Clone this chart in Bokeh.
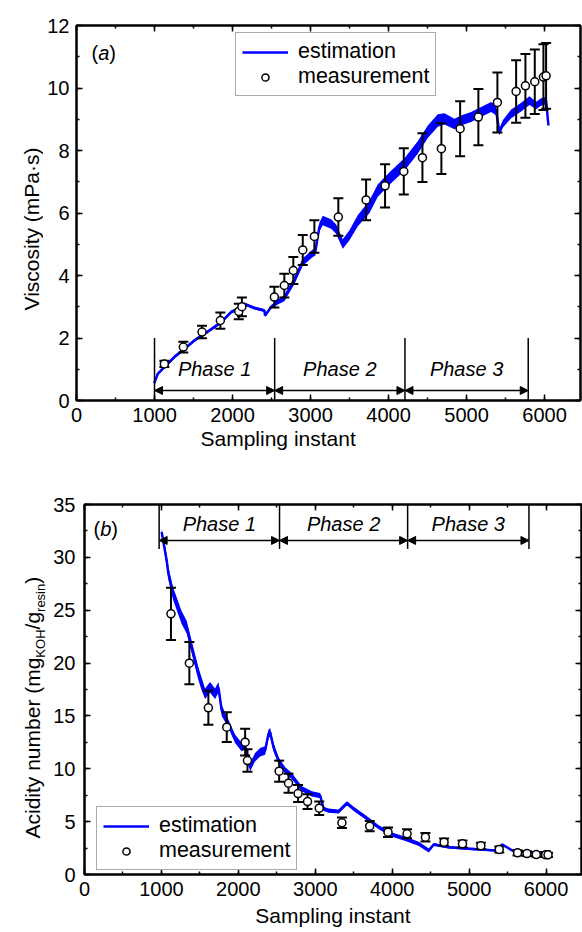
import math
from bokeh.plotting import figure
from bokeh.models import (ColumnDataSource, Whisker, TeeHead, Arrow, NormalHead, Label, Title,
                          Legend, LegendItem, LinearAxis, SingleIntervalTicker, Range1d)
from bokeh.core.properties import value
from bokeh.layouts import column, row
from bokeh.embed import file_html
from bokeh.resources import INLINE

FONT = "Liberation Sans"

# ---------------- (a) viscosity ----------------
visc_meas_x = [1126, 1369, 1609, 1844, 2080, 2120, 2536, 2664, 2779, 2900, 3049, 3356, 3712, 3955,
               4195, 4434, 4677, 4917, 5151, 5395, 5635, 5754, 5874, 5985, 6019]
visc_meas_y = [1.17, 1.71, 2.19, 2.56, 2.85, 3.0, 3.31, 3.68, 4.16, 4.82, 5.25, 5.87, 6.42, 6.87,
               7.33, 7.77, 8.06, 8.70, 9.07, 9.54, 9.89, 10.07, 10.2, 10.35, 10.39]
visc_meas_err = [0.1, 0.17, 0.2, 0.26, 0.25, 0.3, 0.33, 0.38, 0.43, 0.48, 0.52, 0.6, 0.65, 0.69,
                 0.74, 0.78, 0.81, 0.88, 0.9, 0.96, 1.0, 1.02, 1.03, 1.05, 1.05]

visc_est_x = [996, 1041, 1126, 1254, 1382, 1510, 1638, 1767, 1853, 1981, 2067, 2151, 2280, 2408,
              2417, 2494, 2580, 2664, 2792, 2900, 3028, 3060, 3113, 3156, 3263, 3327, 3413, 3497,
              3606, 3754, 3862, 4032, 4203, 4374, 4503, 4631, 4716, 4844, 4929, 5058, 5186, 5314,
              5378, 5420, 5464, 5571, 5699, 5806, 5891, 5955, 6019, 6049]
visc_est_y = [0.55, 0.85, 1.07, 1.39, 1.65, 1.92, 2.13, 2.35, 2.5, 2.83, 2.93, 3.09, 2.96, 2.88,
              2.72, 2.99, 3.15, 3.28, 3.84, 4.43, 4.71, 4.75, 5.55, 5.76, 5.65, 5.49, 5.01, 5.28,
              5.76, 6.19, 6.72, 7.15, 7.55, 8.1, 8.6, 8.96, 9.01, 8.85, 8.96, 9.07, 9.23, 9.39,
              9.28, 8.59, 8.85, 9.17, 9.39, 9.6, 9.44, 9.55, 9.6, 8.8]
visc_est_half = [0.04, 0.04, 0.05, 0.05, 0.05, 0.05, 0.05, 0.05, 0.05, 0.05, 0.05, 0.05, 0.05, 0.05,
                 0.05, 0.06, 0.08, 0.1, 0.12, 0.12, 0.12, 0.12, 0.14, 0.15, 0.15, 0.15, 0.15, 0.16,
                 0.18, 0.2, 0.2, 0.2, 0.2, 0.2, 0.2, 0.2, 0.18, 0.17, 0.16, 0.16, 0.16, 0.16,
                 0.15, 0.1, 0.12, 0.14, 0.14, 0.14, 0.12, 0.12, 0.12, 0.05]

visc_phase_bounds = [1000, 2540, 4210, 5790]
visc_phase_names = ["Phase 1", "Phase 2", "Phase 3"]
visc_title = "Viscosity (mPa·s)"
x_title = "Sampling instant"

# ---------------- (b) acidity number ----------------
acid_meas_x = [1124, 1363, 1610, 1849, 2088, 2118, 2530, 2652, 2776, 2899, 3051, 3346, 3707, 3945,
               4193, 4431, 4674, 4913, 5152, 5391, 5629, 5751, 5872, 5994, 6025]
acid_meas_y = [24.66, 19.99, 15.77, 13.94, 12.52, 10.78, 9.77, 8.64, 7.66, 6.9, 6.27, 4.89, 4.57,
               4.0, 3.85, 3.53, 3.06, 2.9, 2.71, 2.36, 2.05, 1.98, 1.89, 1.86, 1.86]
acid_meas_err = [2.47, 2.0, 1.6, 1.4, 1.26, 1.06, 1.0, 0.9, 0.8, 0.7, 0.63, 0.5, 0.48, 0.45, 0.42,
                 0.4, 0.35, 0.32, 0.3, 0.28, 0.25, 0.22, 0.2, 0.2, 0.2]

acid_est_x = [1003, 1068, 1090, 1111, 1155, 1263, 1328, 1393, 1480, 1523, 1567, 1632, 1697, 1741,
              1784, 1871, 1957, 2044, 2083, 2152, 2217, 2283, 2348, 2391, 2413, 2457, 2522, 2609,
              2695, 2826, 2956, 3064, 3108, 3173, 3303, 3411, 3499, 3650, 3824, 3997, 4171, 4345,
              4475, 4540, 4735, 4996, 5343, 5430, 5560, 5777, 6038, 6050]
acid_est_y = [32.4, 29.7, 28.5, 27.8, 26.5, 24.3, 23.4, 21.5, 19.0, 18.0, 17.1, 17.7, 17.1, 17.7,
              15.5, 14.25, 12.84, 12.04, 12.3, 10.15, 11.1, 11.57, 11.73, 13.3, 13.46, 12.04, 10.78,
              9.84, 9.3, 8.1, 7.63, 7.47, 6.21, 6.05, 5.96, 6.74, 6.21, 5.42, 4.47, 3.78, 3.37,
              2.9, 2.27, 2.84, 2.58, 2.43, 2.27, 2.84, 2.27, 2.11, 2.11, 2.3]
acid_est_half = [0.3, 0.5, 0.6, 0.6, 0.6, 0.6, 0.6, 0.6, 0.6, 0.6, 0.5, 0.5, 0.5, 0.5, 0.5, 0.4,
                 0.4, 0.4, 0.4, 0.4, 0.4, 0.4, 0.4, 0.4, 0.4, 0.4, 0.3, 0.3, 0.3, 0.25, 0.25, 0.25,
                 0.2, 0.2, 0.2, 0.2, 0.2, 0.2, 0.2, 0.2, 0.2, 0.2, 0.2, 0.15, 0.12, 0.12, 0.1, 0.1,
                 0.1, 0.1, 0.1, 0.1]

acid_phase_bounds = [970, 2535, 4200, 5777]
acid_phase_names = ["Phase 1", "Phase 2", "Phase 3"]

# y-axis title of (b): text pieces (text, font px, baseline shift px)
acid_title_pieces = [("Acidity number (mg", 21, 0), ("KOH", 13, 8), ("/g", 21, 0),
                     ("resin", 13, 8), (")", 21, 0)]

BLUE = "#0000ff"

# Arial / Liberation Sans advance widths (em) for text layout
CW = {'A': .667, 'c': .5, 'i': .222, 'd': .556, 't': .278, 'y': .5, ' ': .278, 'n': .556,
      'u': .556, 'm': .833, 'b': .556, 'e': .556, 'r': .333, '(': .333, ')': .333, 'g': .556,
      'K': .667, 'O': .778, 'H': .722, '/': .278, 's': .5, 'a': .556}


def tw(s, size):
    return sum(CW.get(ch, .556) for ch in s) * size


def style(p, xint, yint, tick_standoff_x, tick_standoff_y):
    p.xgrid.visible = False
    p.ygrid.visible = False
    p.outline_line_color = "black"
    p.outline_line_width = 2
    p.background_fill_color = "white"
    p.border_fill_color = "white"
    bx = p.below[0]
    ly = p.left[0]
    bx.ticker = SingleIntervalTicker(interval=xint, num_minor_ticks=2)
    ly.ticker = SingleIntervalTicker(interval=yint, num_minor_ticks=2)
    xt = LinearAxis(ticker=SingleIntervalTicker(interval=xint, num_minor_ticks=2))
    yr = LinearAxis(ticker=SingleIntervalTicker(interval=yint, num_minor_ticks=2))
    p.add_layout(xt, "above")
    p.add_layout(yr, "right")
    for ax in (bx, ly, xt, yr):
        ax.major_tick_in = 6
        ax.major_tick_out = 0
        ax.minor_tick_in = 3
        ax.minor_tick_out = 0
        ax.axis_line_width = 2
        ax.axis_line_color = "black"
        ax.major_tick_line_width = 1.5
        ax.minor_tick_line_width = 1.5
        ax.major_tick_line_color = "black"
        ax.minor_tick_line_color = "black"
        ax.major_label_text_font = FONT
        ax.major_label_text_font_size = "20px"
        ax.major_label_text_color = "black"
        ax.axis_label_text_font = FONT
        ax.axis_label_text_font_size = "21px"
        ax.axis_label_text_font_style = "normal"
        ax.axis_label_text_color = "black"
    for ax in (xt, yr):
        ax.major_label_text_font_size = "0px"
        ax.major_label_text_color = None
        ax.major_label_standoff = 0
        ax.axis_label_standoff = 0
        ax.axis_label = None
    bx.major_label_standoff = tick_standoff_x
    ly.major_label_standoff = tick_standoff_y
    return bx, ly


def add_common(p, mx, my, merr, ex, ey, eh, legend_loc):
    lo = [y - h for y, h in zip(ey, eh)]
    hi = [y + h for y, h in zip(ey, eh)]
    esrc = ColumnDataSource(dict(x=ex, y=ey, lo=lo, hi=hi))
    p.varea(x="x", y1="lo", y2="hi", source=esrc, fill_color=BLUE, fill_alpha=1)
    line_r = p.line("x", "y", source=esrc, line_color=BLUE, line_width=2.5)
    msrc = ColumnDataSource(dict(x=mx, y=my,
                                 upper=[a + b for a, b in zip(my, merr)],
                                 lower=[a - b for a, b in zip(my, merr)]))
    wk = Whisker(source=msrc, base="x", upper="upper", lower="lower", dimension="height",
                 line_color="black", line_width=2,
                 upper_head=TeeHead(size=10, line_color="black", line_width=2),
                 lower_head=TeeHead(size=10, line_color="black", line_width=2))
    wk.level = "glyph"
    p.add_layout(wk)
    sc = p.scatter("x", "y", source=msrc, marker="circle", size=8, fill_color="white",
                   line_color="black", line_width=1.5)
    sc.level = "overlay"
    legend = Legend(items=[LegendItem(label="estimation", renderers=[line_r]),
                           LegendItem(label="measurement", renderers=[sc])],
                    location=legend_loc, label_text_font=FONT, label_text_font_size="21.5px",
                    label_text_color="black", glyph_width=46, glyph_height=18, label_height=18,
                    label_standoff=10, padding=6, spacing=0, margin=0,
                    border_line_color="#555555", border_line_width=1,
                    background_fill_color="white", background_fill_alpha=1)
    p.add_layout(legend)


def add_phases(p, bounds, names, y_line0, y_line1, y_arrow, y_text):
    p.segment(x0=bounds, y0=[y_line0] * len(bounds), x1=bounds, y1=[y_line1] * len(bounds),
              line_color="black", line_width=1.5)
    for i, name in enumerate(names):
        a, b = bounds[i], bounds[i + 1]
        p.add_layout(Arrow(x_start=a, y_start=y_arrow, x_end=b, y_end=y_arrow,
                           line_color="black", line_width=1.5,
                           start=NormalHead(size=8, fill_color="black", line_color="black", line_width=1),
                           end=NormalHead(size=8, fill_color="black", line_color="black", line_width=1)))
        p.add_layout(Label(x=(a + b) / 2, y=y_text, text=name, text_align="center",
                           text_baseline="middle", text_font=FONT, text_font_size="20px",
                           text_font_style="italic", text_color="black"))


def panel_tag(p, letter, sx, sy):
    x = sx
    for s, style_ in (("(", "normal"), (letter, "italic"), (")", "normal")):
        p.add_layout(Label(x=x, y=sy, x_units="screen", y_units="screen", text=s,
                           text_align="left", text_baseline="middle", text_font=FONT,
                           text_font_size="20px", text_font_style=style_, text_color="black"))
        x += tw(s, 20)


def title_strip(width, frame_h, top, bottom, pieces, x0, y0):
    """A figure without axes, frame aligned with the neighbouring plot's frame,
    carrying a rotated axis title built from (text, size, shift) pieces."""
    f = figure(frame_width=width, frame_height=frame_h, x_range=Range1d(0, width),
               y_range=Range1d(0, frame_h), x_axis_type=None, y_axis_type=None,
               output_backend="svg", toolbar_location=None,
               min_border_left=0, min_border_right=0, min_border_top=top, min_border_bottom=bottom)
    f.xgrid.visible = False
    f.ygrid.visible = False
    f.outline_line_color = None
    tx, ty, tt, ts = [], [], [], []
    ycur = y0
    for s, size, shift in pieces:
        tx.append(x0 + shift)
        ty.append(ycur)
        tt.append(s)
        ts.append(f"{size}px")
        ycur += tw(s, size)
    f.text(x=tx, y=ty, text=tt, angle=math.pi / 2, text_align="left", text_baseline="alphabetic",
           text_font=value(FONT), text_font_size=ts, text_color="black")
    return f


# ---------- figure (a) ----------
p1 = figure(frame_width=504, frame_height=375, x_range=Range1d(0, 6460), y_range=Range1d(0, 12),
            output_backend="svg", toolbar_location=None,
            min_border_left=33, min_border_right=2, min_border_top=25, min_border_bottom=66)
bx1, ly1 = style(p1, 1000, 2, 7, 7)
p1.add_layout(Title(text=x_title, align="left", offset=124, standoff=0, text_font=FONT,
                    text_font_size="21px", text_font_style="normal", text_color="black"), "below")
add_common(p1, visc_meas_x, visc_meas_y, visc_meas_err, visc_est_x, visc_est_y, visc_est_half,
           (159, 304))
add_phases(p1, visc_phase_bounds, visc_phase_names, 0, 2, 0.32, 1.0)
panel_tag(p1, "a", 15, 348)
lab1 = title_strip(43, 375, 25, 66, [(visc_title, 21, 0)], 31, 90)

# ---------- figure (b) ----------
p2 = figure(frame_width=497, frame_height=370, x_range=Range1d(0, 6460), y_range=Range1d(0, 35),
            output_backend="svg", toolbar_location=None,
            min_border_left=33, min_border_right=2, min_border_top=38, min_border_bottom=58)
bx2, ly2 = style(p2, 1000, 5, 7, 9)
bx2.axis_label = x_title
bx2.axis_label_standoff = 5
add_common(p2, acid_meas_x, acid_meas_y, acid_meas_err, acid_est_x, acid_est_y, acid_est_half,
           (12, 4))
add_phases(p2, acid_phase_bounds, acid_phase_names, 30.8, 35, 31.6, 33.2)
panel_tag(p2, "b", 9, 346)
lab2 = title_strip(50, 370, 38, 58, acid_title_pieces, 32, 36)

layout = column(row(lab1, p1), row(lab2, p2))
open("out.html", "w").write(file_html(layout, INLINE))
